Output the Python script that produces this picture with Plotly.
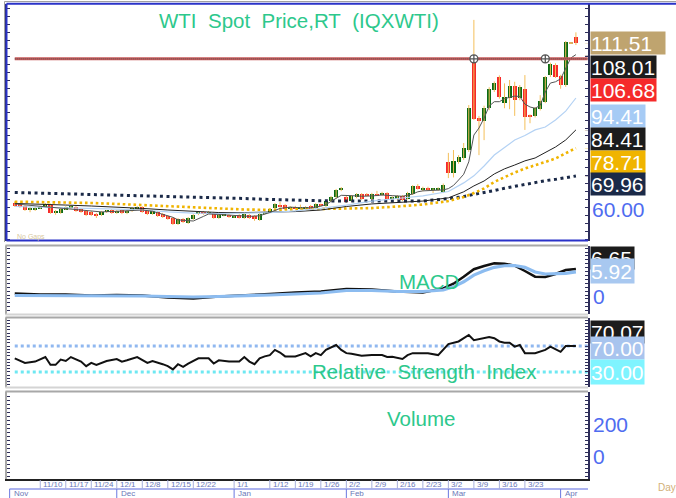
import plotly.graph_objects as go
from plotly.subplots import make_subplots

W, H = 676, 498
FONT = "Liberation Sans, Arial, sans-serif"
TXT_GREEN = "#2dc88c"

# daily candles (one entry per session, early Nov .. early Apr)
opens = [61.6, 61.2, 60.55, 59.6, 59.3, 59.9, 60.35, 60.9, 58.4, 58.4,
         59.6, 59.9, 60.24, 59.6, 59.0, 58.7, 58.0, 57.75, 58.7, 59.3,
         58.4, 59.3, 58.36, 58.99, 59.6, 60.24, 58.99, 58.05, 58.67, 58.05,
         57.42, 56.79, 54.91, 56.48, 55.23, 56.48, 58.05, 58.67, 58.36, 58.36,
         56.79, 57.6, 57.73, 57.1, 57.73, 56.79, 57.73, 57.42, 56.17, 58.2,
         58.67, 59.93, 60.87, 60.87, 59.9, 60.2, 59.8, 59.61, 60.55, 59.93,
         61.0, 60.55, 62.12, 63.38, 65.6, 63.5, 62.12, 63.38, 64.32, 64.2,
         62.75, 64.4, 64.0, 64.63, 63.0, 62.75, 63.69, 62.9, 64.32, 66.82,
         65.5, 66.3, 65.6, 65.6, 64.95, 74.35, 70.9, 74.35, 75.6, 78.1,
         106.6, 88.1, 87.2, 91.3, 96.9, 101.0, 92.9, 94.3, 98.2, 94.3,
         97.2, 89.1, 88.8, 90.9, 93.3, 101.6, 104.8, 101.3, 98.5, 111.6,
         113.6]
highs = [62.0, 61.5, 60.8, 60.4, 60.3, 60.5, 61.5, 61.3, 59.3, 59.9,
         60.5, 60.9, 60.6, 59.9, 59.3, 59.0, 58.4, 59.0, 59.3, 59.6,
         59.3, 59.6, 59.3, 60.2, 60.6, 60.5, 59.3, 59.3, 59.0, 58.4,
         57.7, 57.1, 56.8, 56.8, 57.1, 58.0, 58.9, 59.0, 59.0, 58.7,
         58.0, 58.1, 58.0, 57.7, 58.0, 58.4, 58.0, 57.7, 58.4, 58.8,
         59.9, 61.5, 61.8, 61.2, 60.5, 60.6, 61.0, 60.5, 60.9, 61.5,
         61.3, 62.4, 63.7, 65.9, 66.5, 64.0, 64.0, 64.6, 64.6, 64.6,
         64.7, 65.3, 65.0, 64.9, 63.6, 64.0, 64.0, 65.0, 67.1, 67.4,
         66.6, 66.6, 66.1, 66.4, 67.6, 77.2, 78.1, 76.5, 80.3, 92.2,
         118.9, 88.8, 92.0, 97.8, 99.6, 101.5, 99.0, 100.05, 99.5, 98.5,
         101.6, 89.3, 91.6, 95.3, 101.3, 105.5, 105.3, 101.7, 112.3, 111.8,
         115.0]
lows = [60.3, 60.0, 59.0, 58.6, 59.0, 59.6, 60.1, 58.1, 57.8, 58.1,
        59.3, 59.6, 58.7, 58.4, 57.4, 57.4, 56.8, 57.4, 58.4, 58.1,
        58.1, 58.0, 58.0, 58.7, 59.3, 58.4, 57.7, 57.8, 57.1, 56.8,
        56.2, 54.6, 54.6, 55.2, 54.9, 56.2, 57.7, 57.8, 58.0, 56.5,
        56.5, 57.3, 56.8, 56.8, 56.6, 56.5, 56.5, 55.9, 55.9, 57.9,
        58.4, 59.6, 60.0, 59.3, 59.5, 59.6, 59.0, 59.3, 59.3, 59.6,
        60.5, 60.2, 61.8, 63.0, 65.2, 61.5, 61.8, 63.0, 62.4, 63.6,
        62.4, 63.6, 63.7, 62.6, 62.7, 62.4, 62.1, 62.6, 64.0, 65.7,
        65.2, 65.3, 64.6, 65.3, 64.6, 69.3, 69.5, 73.8, 75.0, 77.5,
        87.5, 76.5, 81.2, 90.6, 96.3, 94.2, 91.2, 90.9, 88.8, 93.7,
        84.4, 86.5, 88.3, 90.5, 92.8, 101.0, 100.7, 97.3, 97.9, 111.4,
        111.0]
closes = [60.55, 60.35, 59.3, 59.9, 59.93, 60.1, 61.2, 58.4, 58.6, 59.6,
          60.2, 60.55, 59.0, 58.7, 57.7, 57.75, 57.6, 58.7, 58.9, 58.4,
          59.0, 58.36, 58.99, 59.93, 60.24, 58.67, 58.05, 58.99, 57.42, 57.11,
          56.48, 54.91, 56.48, 55.54, 56.79, 57.73, 58.67, 58.05, 58.67, 56.79,
          57.73, 57.8, 57.11, 57.4, 56.9, 58.05, 56.79, 56.48, 58.05, 58.5,
          59.61, 61.18, 60.24, 59.61, 60.1, 59.9, 60.0, 60.24, 59.61, 61.18,
          60.8, 62.12, 63.38, 65.57, 65.9, 61.9, 63.69, 64.32, 62.75, 63.9,
          64.4, 63.9, 64.7, 62.9, 63.2, 63.69, 62.43, 64.7, 66.82, 66.0,
          66.3, 65.57, 65.8, 66.1, 67.14, 70.9, 74.66, 75.9, 78.7, 91.3,
          87.8, 87.2, 91.3, 97.2, 99.1, 94.7, 94.6, 98.2, 93.8, 97.8,
          88.6, 88.6, 91.2, 93.6, 100.9, 105.1, 101.1, 98.5, 111.9, 111.6,
          111.51]
idx = list(range(len(closes)))

ma_idx = [0, 5, 10, 15, 20, 25, 30, 35, 40, 45, 50, 55, 60, 65, 70, 75, 80,
          85, 88, 90, 92, 94, 96, 98, 100, 102, 104, 106, 108, 110]
ma_long = [64.79, 64.6, 64.4, 64.0, 63.9, 63.7, 63.5, 63.3, 63.2, 62.9, 62.6, 62.3,
           62.2, 62.1, 62.05, 62.05, 62.1, 62.85, 63.5, 64.2, 64.7, 65.4, 66.1, 66.7,
           67.35, 67.9, 68.5, 68.9, 69.35, 69.96]
ma_mid = [61.9, 61.8, 61.7, 61.5, 61.2, 60.9, 60.55, 60.25, 59.8, 59.45, 59.35, 59.5,
          59.6, 59.75, 59.9, 60.4, 61.0, 62.1, 63.4, 64.6, 66.05, 68.1, 69.65, 71.05,
          72.3, 73.25, 74.35, 75.45, 77.0, 78.71]
ma_black = [61.35, 61.0, 60.85, 60.55, 60.25, 59.8, 59.3, 58.8, 58.5, 58.5, 58.7, 58.8,
            59.3, 60.4, 61.2, 61.65, 62.1, 63.1, 65.0, 66.85, 68.4, 70.6, 72.2, 73.4,
            74.7, 75.6, 77.2, 79.05, 81.25, 84.41]
ma_blue = [60.4, 60.25, 60.1, 59.9, 59.6, 59.3, 58.7, 58.35, 58.2, 58.35, 58.5, 59.0,
           59.8, 60.85, 62.1, 62.9, 63.7, 65.1, 67.8, 70.0, 73.1, 76.55, 79.05, 81.25,
           82.65, 84.4, 85.3, 87.5, 90.3, 94.41]
ma5_idx = [0, 3, 6, 9, 12, 15, 17, 20, 23, 25, 27, 29, 31, 32, 34, 35, 37, 38, 40, 42,
           44, 46, 48, 50, 52, 54, 56, 58, 60, 61, 62, 63, 64, 66, 68, 70, 72, 74, 76, 78,
           79, 80, 82, 84, 85, 86, 87, 88, 89, 90, 91, 92, 93, 94, 95, 96, 97, 98, 99, 100,
           101, 102, 103, 104, 105, 106, 107, 108, 109, 110]
ma5 = [61.2, 60.8, 60.4, 59.9, 59.6, 59.0, 58.7, 58.9, 59.2, 59.3,
       58.9, 58.05, 57.0, 56.2, 55.9, 55.85, 57.3, 58.05, 57.9, 57.7,
       57.4, 57.3, 57.5, 58.5, 59.8, 60.2, 60.0, 60.0, 60.5, 61.0,
       62.0, 63.0, 63.9, 63.8, 63.6, 63.7, 64.0, 63.8, 63.6, 64.3,
       65.0, 65.3, 65.5, 65.6, 66.0, 67.0, 68.7, 70.5, 74.4, 82.8,
       85.0, 88.1, 91.9, 93.25, 93.25, 94.2, 94.6, 95.0, 94.9, 92.5,
       91.6, 91.2, 92.1, 96.3, 99.1, 99.5, 100.4, 103.8, 106.95, 108.01]

hline_level = 106.68
hline_anchors = [90, 104]

# MACD
macd_idx = [0, 5, 10, 15, 20, 25, 30, 35, 40, 45, 50, 55, 60, 65, 70, 75, 80,
            84, 86, 88, 90, 92, 94, 96, 98, 100, 102, 104, 106, 108, 110]
macd = [0.38, 0.13, 0.13, -0.13, 0.0, -0.13, -0.64, -0.9, -0.38, -0.13, 0.26, 0.64,
        0.9, 1.54, 1.41, 0.9, 0.64, 1.7, 2.9, 4.7, 6.6, 7.44, 8.13, 8.03, 7.5, 6.15,
        4.7, 4.6, 5.38, 6.41, 6.65]
signal = [-0.13, -0.13, -0.13, -0.13, -0.13, -0.26, -0.38, -0.51, -0.38, -0.26, 0.0,
          0.26, 0.51, 1.15, 1.15, 0.9, 0.9, 1.28, 2.1, 3.4, 5.1, 6.2, 7.1, 7.5, 7.56,
          7.1, 5.9, 5.38, 5.38, 5.56, 5.92]

# RSI
rsi_idx = [0, 2, 4, 6, 7, 8, 9, 10, 11, 13, 14, 15, 16, 18, 20, 21, 22, 24, 26, 27,
           29, 30, 31, 32, 33, 34, 36, 38, 39, 40, 42, 44, 45, 46, 47, 48, 49, 50, 51, 52,
           53, 55, 57, 58, 59, 60, 61, 62, 63, 64, 65, 66, 68, 70, 72, 73, 74, 76, 77, 78,
           81, 83, 84, 85, 87, 89, 90, 91, 93, 94, 95, 96, 97, 98, 99, 100, 102, 104, 105, 107,
           108, 110]
rsi = [51, 44, 46, 53, 41, 41, 49, 47, 53, 46, 39, 44, 41, 47, 50, 46, 48, 53, 44, 47,
       42, 39, 34, 42, 38, 43, 51, 51, 43, 48, 46, 46, 53, 46, 42, 51, 54, 56, 64, 60,
       54, 54, 59, 54, 59, 56, 64, 68, 71.5, 64, 59, 58, 55, 56, 56, 53, 53.5, 50, 56, 59,
       59, 56, 64, 73, 77, 87, 79, 81, 84, 82, 77, 75, 75, 69, 71.5, 59, 59, 64, 69, 61,
       70, 70.07]
rsi_levels = [70, 30]

# date axis
week_idx = [5, 10, 15, 20, 25, 30, 35, 43, 50, 55, 60, 65, 70, 75, 80, 85, 90, 95, 100]
week_labels = ["11/10", "11/17", "11/24", "12/1", "12/8", "12/15", "12/22", "1/1", "1/12",
               "1/19", "1/26", "2/2", "2/9", "2/16", "2/23", "3/2", "3/9", "3/16", "3/23"]
month_idx = [-1, 20, 43, 65, 85, 107]
month_labels = ["Nov", "Dec", "Jan", "Feb", "Mar", "Apr"]


def px(x):
    return x / W


def py(y):
    return 1 - y / H


fig = make_subplots(rows=4, cols=1, shared_xaxes=True, vertical_spacing=0.01)

# ---- price panel
wx, wy = [], []
for i, (hi, lo) in enumerate(zip(highs, lows)):
    wx += [i, i, None]
    wy += [lo, hi, None]
fig.add_trace(go.Scatter(x=wx, y=wy, mode="lines", line=dict(color="#f4bf5a", width=1),
                         hoverinfo="skip", showlegend=False), row=1, col=1)

body_base = [min(o, c) for o, c in zip(opens, closes)]
body_len = [max(abs(c - o), 0.3) for o, c in zip(opens, closes)]
body_col = ["#0b6a14" if c > o else ("#f52a2a" if c < o else "#d9a860")
            for o, c in zip(opens, closes)]
fig.add_trace(go.Bar(x=idx, y=body_len, base=body_base, width=0.8,
                     marker=dict(color=body_col, line=dict(width=0)),
                     showlegend=False), row=1, col=1)

fig.add_trace(go.Scatter(x=ma_idx, y=ma_long, mode="lines",
                         line=dict(color="#1b2a48", width=3, dash="3px,3.6px"),
                         showlegend=False), row=1, col=1)
fig.add_trace(go.Scatter(x=ma_idx, y=ma_mid, mode="lines",
                         line=dict(color="#f0b400", width=2.6, dash="2.6px,2.8px"),
                         showlegend=False), row=1, col=1)
fig.add_trace(go.Scatter(x=ma_idx, y=ma_black, mode="lines",
                         line=dict(color="#202020", width=1), showlegend=False), row=1, col=1)
fig.add_trace(go.Scatter(x=ma_idx, y=ma_blue, mode="lines",
                         line=dict(color="#b4d2f4", width=1.2), showlegend=False), row=1, col=1)
fig.add_trace(go.Scatter(x=ma5_idx, y=ma5, mode="lines",
                         line=dict(color="#555555", width=1), showlegend=False), row=1, col=1)

hl_x = [idx[0], idx[-1] + 2.3]
fig.add_trace(go.Scatter(x=hl_x, y=[hline_level] * 2, mode="lines",
                         line=dict(color="#c85a5a", width=3), showlegend=False), row=1, col=1)
fig.add_trace(go.Scatter(x=hl_x, y=[hline_level] * 2, mode="lines",
                         line=dict(color="#505050", width=1, dash="1px,1px"),
                         showlegend=False), row=1, col=1)
fig.add_trace(go.Scatter(x=hline_anchors, y=[hline_level] * len(hline_anchors), mode="markers",
                         marker=dict(symbol="circle-cross", size=8, color="white",
                                     line=dict(color="#555555", width=1.3)),
                         showlegend=False), row=1, col=1)

ptr_vals = [closes[-1], ma5[-1], ma_blue[-1], ma_black[-1], ma_mid[-1], ma_long[-1]]
ptr_cols = ["#c8a060", "#202020", "#9ec8f8", "#202020", "#f0b400", "#1b2a48"]
fig.add_trace(go.Scatter(x=[idx[-1] + 2.2] * len(ptr_vals), y=ptr_vals, mode="text",
                         text=["→"] * len(ptr_vals),
                         textfont=dict(size=8, color=ptr_cols, family=FONT),
                         showlegend=False), row=1, col=1)

# ---- MACD panel
fig.add_trace(go.Scatter(x=macd_idx, y=macd, mode="lines",
                         line=dict(color="#111111", width=2.5), showlegend=False), row=2, col=1)
fig.add_trace(go.Scatter(x=macd_idx, y=signal, mode="lines",
                         line=dict(color="#8cbcf0", width=3.2), showlegend=False), row=2, col=1)

# ---- RSI panel
lvl_cols = ["#90b8f0", "#6ee8f2"]
for lvl, col in zip(rsi_levels, lvl_cols):
    fig.add_trace(go.Scatter(x=hl_x, y=[lvl, lvl], mode="lines",
                             line=dict(color=col, width=3, dash="3px,3px"),
                             showlegend=False), row=3, col=1)
fig.add_trace(go.Scatter(x=rsi_idx, y=rsi, mode="lines",
                         line=dict(color="#111111", width=2), showlegend=False), row=3, col=1)

# ---- volume panel (empty)
fig.add_trace(go.Scatter(x=[idx[0]], y=[None], mode="lines", showlegend=False), row=4, col=1)

panels = [
    (4, 241, [49.58, 123.88], 2.5),
    (246, 314, [-4.87, 12.56], 1.0),
    (318, 387, [6.9, 113.1], 5),
    (392, 479, [-143.75, 400], 25),
]
xr = [-1.52, idx[-1] + 2.37]
for r, (top, bot, rng, dt) in enumerate(panels, start=1):
    fig.update_yaxes(domain=[py(bot), py(top)], range=rng, side="right", showline=True,
                     linecolor="#2e2e5a", linewidth=1.5, mirror="ticks", ticks="inside",
                     ticklen=3, tickcolor="#2e2e5a", dtick=dt, tick0=0,
                     showticklabels=False, showgrid=False, zeroline=False, row=r, col=1)
    fig.update_xaxes(domain=[px(7), px(588)], range=xr, showticklabels=False,
                     showgrid=False, zeroline=False, ticks="", row=r, col=1)
fig.update_xaxes(showline=True, linecolor="#222222", linewidth=1.5, row=4, col=1)

shapes = []
# panel frames
shapes.append(dict(type="line", xref="paper", yref="paper", x0=px(4.5), x1=1,
                   y0=py(1.5), y1=py(1.5), line=dict(color="#a0a0a0", width=1)))
shapes.append(dict(type="line", xref="paper", yref="paper", x0=px(4.5), x1=px(4.5),
                   y0=py(1.5), y1=py(242), line=dict(color="#a0a0a0", width=1)))
shapes.append(dict(type="line", xref="paper", yref="paper", x0=px(6.5), x1=1,
                   y0=py(3.7), y1=py(3.7), line=dict(color="#2a32c8", width=2)))
shapes.append(dict(type="line", xref="paper", yref="paper", x0=px(6.5), x1=px(6.5),
                   y0=py(3.7), y1=py(240.5), line=dict(color="#2a32c8", width=2)))
shapes.append(dict(type="line", xref="paper", yref="paper", x0=px(6.5), x1=px(588),
                   y0=py(240.5), y1=py(240.5), line=dict(color="#2a32c8", width=2)))
for top, bot in [(245.5, 314.5), (317.5, 387.5), (391.5, 479)]:
    shapes.append(dict(type="line", xref="paper", yref="paper", x0=px(5.5), x1=px(588),
                       y0=py(top), y1=py(top), line=dict(color="#a8a8a8", width=2)))
    shapes.append(dict(type="line", xref="paper", yref="paper", x0=px(6), x1=px(6),
                       y0=py(top), y1=py(bot), line=dict(color="#a8a8a8", width=2)))
for bot in [314.5, 387.5]:
    shapes.append(dict(type="line", xref="paper", yref="paper", x0=px(5.5), x1=px(588),
                       y0=py(bot), y1=py(bot), line=dict(color="#d4d4d4", width=2)))

# date axis rows
shapes.append(dict(type="line", xref="paper", yref="paper", x0=px(9.5), x1=px(588),
                   y0=py(489), y1=py(489), line=dict(color="#5a68e0", width=1.2)))
for wi in week_idx:
    shapes.append(dict(type="line", xref="x", yref="paper", x0=wi, x1=wi,
                       y0=py(480), y1=py(489), line=dict(color="#a8b0dc", width=1)))
for mi in month_idx:
    shapes.append(dict(type="line", xref="x", yref="paper", x0=mi, x1=mi,
                       y0=py(489), y1=py(498), line=dict(color="#6a78e0", width=1)))

ann = []


def label(text, x, y, size, color, xanchor="center", xref="paper", yref="paper", **kw):
    d = dict(text=text, x=x, y=y, xref=xref, yref=yref, xanchor=xanchor, yanchor="middle",
             showarrow=False, font=dict(family=FONT, size=size, color=color))
    d.update(kw)
    return d


def tag(text, yc, bg, w, h=22):
    return dict(text=text, x=px(590), y=py(yc), xref="paper", yref="paper", xanchor="left",
                yanchor="middle", showarrow=False, width=w, height=h, align="left",
                valign="middle", bgcolor=bg, borderpad=0,
                font=dict(family=FONT, size=21, color="white"))


nb = "\u00a0"
ann.append(label(f"WTI{nb}{nb}Spot{nb}{nb}Price,RT{nb}{nb}(IQXWTI)", px(298.5), py(20),
                 20.5, TXT_GREEN))
ann.append(label("MACD", px(428.5), py(281), 20.5, TXT_GREEN))
ann.append(label(f"Relative{nb}{nb}Strength{nb}{nb}Index", px(424.5), py(371.5), 20.5, TXT_GREEN))
ann.append(label("Volume", px(421), py(418.5), 20.5, TXT_GREEN))
ann.append(label(f"No{nb}Gaps", px(15), py(237), 7, "#d8c8a0", xanchor="left"))
ann.append(label("Day", px(656), py(487), 10, "#d2b078", xanchor="left"))

# price tags
main_tags = [(f"{closes[-1]:.2f}", 43.5, "#bfa46f", 74),
             (f"{ma5[-1]:.2f}", 66.5, "#1c1c1c", 65),
             (f"{hline_level:.2f}", 90, "#f52a2a", 65),
             (f"{ma_blue[-1]:.2f}", 115.5, "#a6cbf5", 54),
             (f"{ma_black[-1]:.2f}", 138.5, "#1c1c1c", 54),
             (f"{ma_mid[-1]:.2f}", 161.5, "#f0b400", 54),
             (f"{ma_long[-1]:.2f}", 184.5, "#1b2a48", 54)]
for t, yc, bg, w in main_tags:
    ann.append(tag(t, yc, bg, w))
ann.append(label("60.00", px(590), 60, 21, "#4f6cf0", xanchor="left", yref="y", yshift=-2))

ann.append(tag(f"{macd[-1]:.2f}", 258, "#1c1c1c", 43))
ann.append(tag(f"{signal[-1]:.2f}", 270.5, "#a8c8f0", 43, h=24))
ann.append(label("0", px(591), 0, 21, "#4f6cf0", xanchor="left", yref="y2", yshift=-1))

ann.append(tag(f"{rsi[-1]:.2f}", 332, "#1c1c1c", 53))
ann.append(tag(f"{rsi_levels[0]:.2f}", 347.5, "#a8c4ee", 53))
ann.append(tag(f"{rsi_levels[1]:.2f}", 372, "#7ff4ff", 53, h=24))

ann.append(label("200", px(591), 200, 21, "#4f6cf0", xanchor="left", yref="y4"))
ann.append(label("0", px(591), 0, 21, "#4f6cf0", xanchor="left", yref="y4"))

for wi, wl in zip(week_idx, week_labels):
    ann.append(label(wl, wi, py(484.5), 8, "#6a78b8", xanchor="left", xref="x", xshift=1))
for mi, ml in zip(month_idx, month_labels):
    ann.append(label(ml, mi, py(493.5), 8, "#6a78b8", xanchor="left", xref="x", xshift=2))

fig.update_layout(
    width=W,
    height=H,
    autosize=False,
    margin=dict(l=0, r=0, t=0, b=0, pad=0),
    plot_bgcolor="white",
    paper_bgcolor="white",
    showlegend=False,
    bargap=0,
    shapes=shapes,
    annotations=ann,
)

fig.write_html(
    "out.html",
    config={"displayModeBar": False},
    post_script="document.body.style.margin='0';document.body.style.overflow='hidden';",
)
